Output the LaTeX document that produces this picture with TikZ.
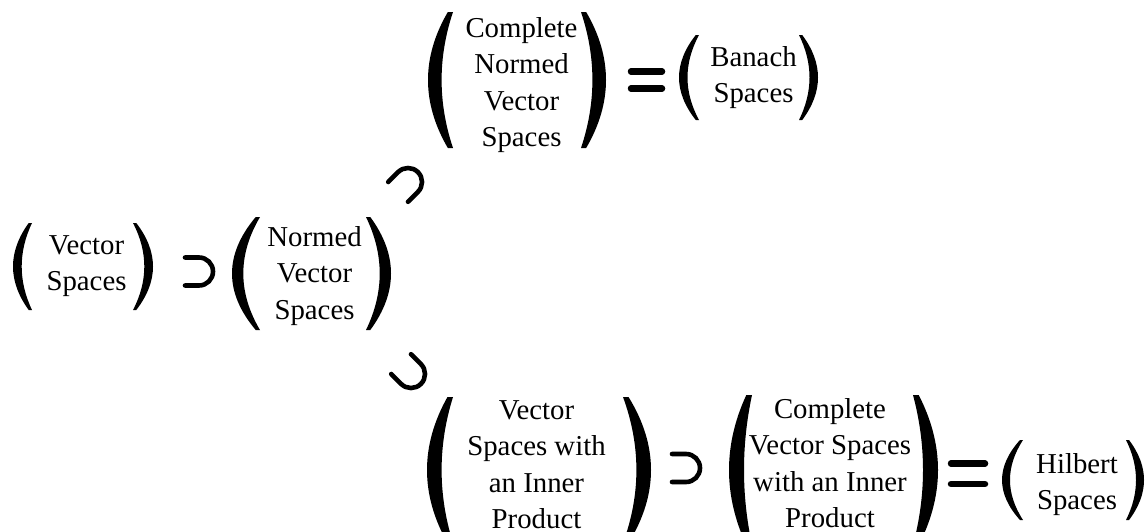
\documentclass[tikz,border=0pt]{standalone}
\usepackage{fontspec}
\setmainfont{Liberation Serif}

% Heavy left parenthesis: #1 = x of the outer bulge, #2 = y of its centre,
% #3 = half height, #4 = overall width
\newcommand{\parenL}[4]{%
  \pgfmathsetmacro\parT{0.2*#3}%
  \pgfmathsetmacro\parE{0.38*\parT}%
  \pgfmathsetmacro\parB{#4-\parE}%
  \pgfmathsetmacro\parC{-\parB/3}%
  \pgfmathsetmacro\parF{\parB+\parE}%
  \pgfmathsetmacro\parD{\parT-(\parF-\parT)/3}%
  \pgfmathsetmacro\parH{#3/3}%
  \fill[shift={(#1,#2)}] (\parB,#3) .. controls (\parC,\parH) and (\parC,-\parH) .. (\parB,-#3)
    -- (\parF,-#3) .. controls (\parD,-\parH) and (\parD,\parH) .. (\parF,#3) -- cycle;}
% The mirrored right parenthesis, #1 = x of its outer bulge
\newcommand{\parenR}[4]{%
  \pgfmathsetmacro\parT{0.2*#3}%
  \pgfmathsetmacro\parE{0.38*\parT}%
  \pgfmathsetmacro\parB{#4-\parE}%
  \pgfmathsetmacro\parC{-\parB/3}%
  \pgfmathsetmacro\parF{\parB+\parE}%
  \pgfmathsetmacro\parD{\parT-(\parF-\parT)/3}%
  \pgfmathsetmacro\parH{#3/3}%
  \fill[shift={(#1,#2)}, xscale=-1] (\parB,#3) .. controls (\parC,\parH) and (\parC,-\parH) .. (\parB,-#3)
    -- (\parF,-#3) .. controls (\parD,-\parH) and (\parD,\parH) .. (\parF,#3) -- cycle;}
% Superset sign: #1,#2 = centre of its arc, #3 = rotation
\newcommand{\supmark}[3]{%
  \draw[rel, shift={(#1,#2)}, rotate=#3] (-14,-14) -- (0,-14)
    arc[start angle=-90, end angle=90, radius=14] -- (-14,14);}
% Equals sign: #1 = left x, #2 = right x, #3,#4 = y of the two bars
\newcommand{\eqmark}[4]{%
  \draw[bar] (#1,#3) -- (#2,#3);
  \draw[bar] (#1,#4) -- (#2,#4);}

\begin{document}
\begin{tikzpicture}[x=1pt, y=-1pt,
  lbl/.style={align=center, inner sep=0pt, anchor=north,
              font=\fontsize{28.8}{36.5}\selectfont},
  bar/.style={line width=6.5pt, line cap=round},
  rel/.style={line width=4.6pt, line cap=round}]
\useasboundingbox (0,0) rectangle (1148,531);
\clip (0,0) rectangle (1148,531);

% the families of spaces
\node[lbl] (vs)   at (86.5,235)  {Vector\\Spaces};
\node[lbl] (nvs)  at (314.5,226) {Normed\\Vector\\Spaces};
\node[lbl] (cnvs) at (521.5,17)  {Complete\\Normed\\Vector\\Spaces};
\node[lbl] (ban)  at (753.5,46)  {Banach\\Spaces};
\node[lbl] (ips)  at (536.5,400) {Vector\\Spaces with\\an Inner\\Product};
\node[lbl] (cips) at (830,398)   {Complete\\Vector Spaces\\with an Inner\\Product};
\node[lbl] (hil)  at (1077,453)  {Hilbert\\Spaces};

% brackets round each family
\parenL{13}{266.5}{43.5}{19}   \parenR{153}{266.5}{43.5}{20}
\parenL{232}{273.5}{56.5}{28}  \parenR{391}{273.5}{56.5}{25}
\parenL{428}{80}{68}{25}       \parenR{606}{80}{68}{25}
\parenL{679}{77.5}{42.5}{20}   \parenR{818}{77.5}{42.5}{19}
\parenL{427}{470}{73}{26}      \parenR{651}{470}{73}{28}
\parenL{729}{470}{75}{23}      \parenR{938}{470}{75}{25}
\parenL{1002}{480}{40}{21}     \parenR{1144}{480}{40}{18}

% inclusions
\supmark{199}{271.5}{0}
\supmark{408}{182}{45}
\supmark{411}{374}{-45}
\supmark{686}{468}{0}

% equalities
\eqmark{631}{662}{71.5}{88.5}
\eqmark{951}{985}{463.5}{484}
\end{tikzpicture}
\end{document}
